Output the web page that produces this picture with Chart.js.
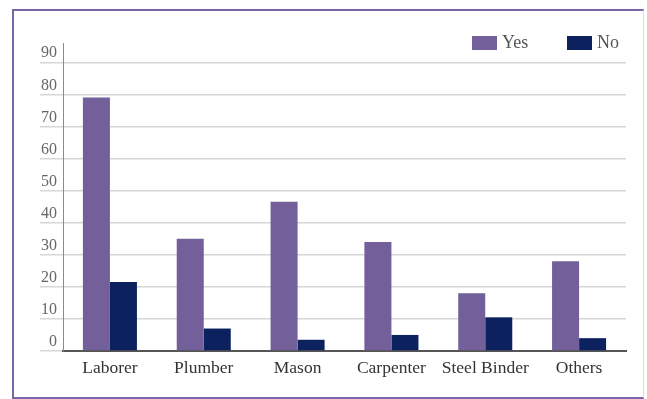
<!DOCTYPE html>
<html>
<head>
<meta charset="utf-8">
<script src="https://cdn.jsdelivr.net/npm/chart.js@4/dist/chart.umd.min.js"></script>
<style>
  html, body { margin: 0; padding: 0; background: #fff; }
  #wrap { position: relative; width: 647px; height: 399px; }
  #frame {
    position: absolute; left: 12px; top: 9px; width: 629px; height: 386px;
    border-left: 2px solid #7866a8; border-top: 2px solid #7866a8;
    border-bottom: 2px solid #7866a8; border-right: 1px solid #dcdcdc;
  }
  #chart { position: absolute; left: 0; top: 0; }
</style>
</head>
<body>
<div id="wrap">
  <div id="frame"></div>
  <canvas id="chart" width="647" height="399"></canvas>
</div>
<script>
const CATEGORIES = ["Laborer", "Plumber", "Mason", "Carpenter", "Steel Binder", "Others"]
const YES = [79, 35, 46.5, 34, 18, 28]
const NO = [21.5, 7, 3.5, 5, 10.5, 4]
const Y_TICKS = [0, 10, 20, 30, 40, 50, 60, 70, 80, 90]

const SERIF = "'Liberation Serif', 'DejaVu Serif', serif"
const PURPLE = "#735f99"
const NAVY = "#0c225f"

// legend drawn in the top right corner of the plot
const cornerLegend = {
  id: "cornerLegend",
  afterDraw(chart) {
    const ctx = chart.ctx
    const area = chart.chartArea
    let x = area.right - 154
    const y = area.top - 7

    ctx.save()
    ctx.font = "18px " + SERIF
    ctx.textBaseline = "middle"
    chart.data.datasets.forEach(function (ds) {
      ctx.fillStyle = ds.backgroundColor
      ctx.fillRect(x, y, 25, 14)
      ctx.fillStyle = "#555"
      ctx.fillText(ds.label, x + 30, y + 7)
      x += 95
    })
    ctx.restore()
  },
}

new Chart(document.getElementById("chart"), {
  type: "bar",
  data: {
    labels: CATEGORIES,
    datasets: [
      { label: "Yes", data: YES, backgroundColor: PURPLE },
      { label: "No", data: NO, backgroundColor: NAVY },
    ],
  },
  options: {
    responsive: false,
    animation: false,
    layout: { padding: { left: 0, right: 21, top: 43, bottom: 0 } },
    categoryPercentage: 0.576,
    barPercentage: 1,
    plugins: {
      legend: { display: false },
      tooltip: { enabled: false },
    },
    scales: {
      x: {
        grid: { display: false },
        border: { color: "#555", width: 2 },
        ticks: {
          color: "#333",
          font: { family: SERIF, size: 17.5 },
          padding: -1,
          maxRotation: 0,
          minRotation: 0,
          autoSkip: false,
        },
        afterFit(scale) { scale.height = 48 },
      },
      y: {
        min: 0,
        max: 96,
        afterBuildTicks(axis) {
          axis.ticks = Y_TICKS.map(function (v) { return { value: v } })
        },
        grid: { color: "#d6d6d6", lineWidth: 1.5, tickLength: 23 },
        border: { color: "#8a8a8a", width: 1 },
        ticks: {
          color: "#666",
          font: { family: SERIF, size: 16 },
          padding: -17,
          labelOffset: -9,
        },
        afterFit(scale) { scale.width = 63 },
      },
    },
  },
  plugins: [cornerLegend],
})
</script>
</body>
</html>
